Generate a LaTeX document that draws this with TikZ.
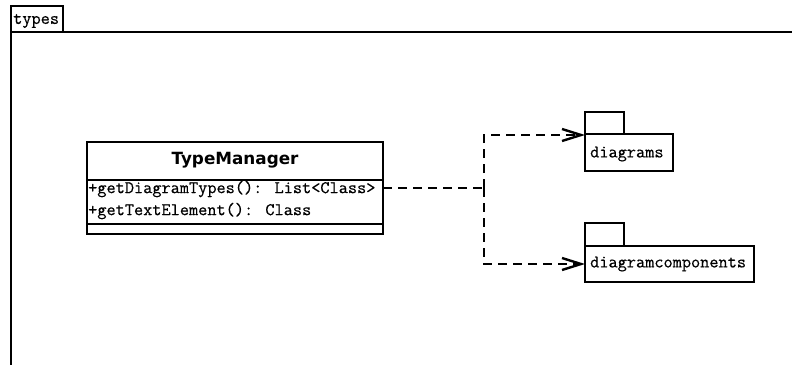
\documentclass[tikz,border=0pt]{standalone}
\usepackage{fontspec}
\usetikzlibrary{arrows.meta}
\newfontfamily\umlmono[FakeBold=0.5]{Latin Modern Mono}
\newfontfamily\umltitle{DejaVu Sans}
\begin{document}
\begin{tikzpicture}[x=1pt,y=-1pt,
  umlline/.style={line width=2.4pt},
  compart/.style={draw,umlline,rectangle,anchor=north west,inner sep=0pt,outer sep=0pt},
  monotext/.style={font=\umlmono\fontsize{17.8}{20}\selectfont,inner sep=0pt,anchor=west},
  dep/.style={umlline,dash pattern=on 9pt off 6pt,-{Straight Barb[length=19pt,width=12pt,line width=2.4pt]}},
  nodep/.style={umlline,dash pattern=on 9pt off 6pt}]
  \useasboundingbox (0,0) rectangle (792,364);
  % enclosing package "types"
  \node[compart,minimum width=52pt,minimum height=26pt] (typestab) at (11,6) {};
  \node[monotext] (typeslbl) at (13,21) {types};
  \coordinate (frametl) at (11,32);
  \draw[umlline] (11,366) -- (frametl) -- (794,32);
  % class TypeManager
  \node[compart,minimum width=296pt,minimum height=38pt] (tmname) at (87,142) {};
  \node[font=\umltitle\bfseries\fontsize{16.8}{19}\selectfont,inner sep=0pt] (tmtitle) at ([yshift=1pt]tmname.center) {TypeManager};
  \node[compart,minimum width=296pt,minimum height=44pt] (tmops) at (87,180) {};
  \node[compart,minimum width=296pt,minimum height=10pt] (tmattr) at (87,224) {};
  \node[monotext] (op1) at (88,189) {+getDiagramTypes(): List<Class>};
  \node[monotext] (op2) at (88,211) {+getTextElement(): Class};
  % package diagrams
  \node[compart,minimum width=39pt,minimum height=22pt] (diagtab) at (585,112) {};
  \node[compart,minimum width=88pt,minimum height=37pt] (diag) at (585,134) {};
  \node[monotext] (diaglbl) at (590,154) {diagrams};
  % package diagramcomponents
  \node[compart,minimum width=39pt,minimum height=23pt] (comptab) at (585,223) {};
  \node[compart,minimum width=169pt,minimum height=36pt] (comp) at (585,246) {};
  \node[monotext] (complbl) at (590,264) {diagramcomponents};
  % dependencies
  \coordinate (src) at (383,188);
  \coordinate (jn) at (484,188);
  \coordinate (toDiag) at (585,135);
  \coordinate (toComp) at (585,264);
  \draw[nodep] (src) -- (jn);
  \draw[dep] (jn) |- (toDiag);
  \draw[dep] (jn) |- (toComp);
\end{tikzpicture}
\end{document}
